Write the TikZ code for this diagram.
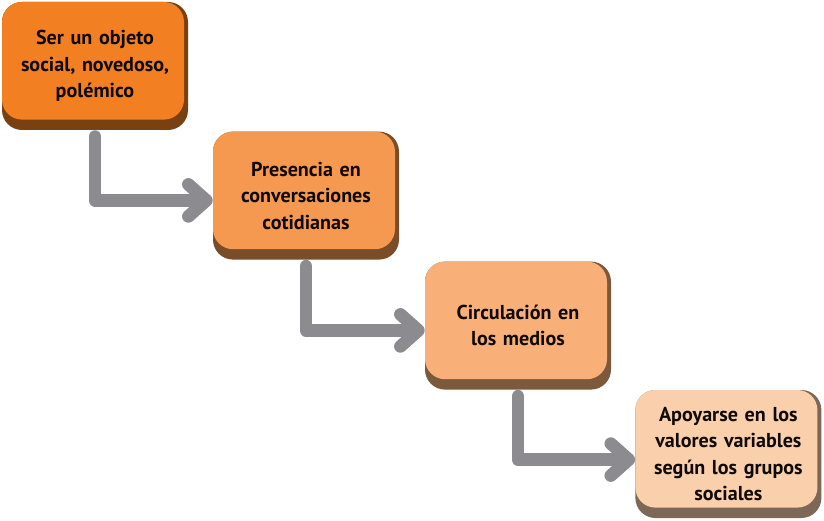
\documentclass[tikz,border=0pt]{standalone}
\usepackage{fontspec}
\setmainfont{PT Sans}
\usetikzlibrary{positioning, arrows.meta, calc}
\definecolor{stageA}{RGB}{242,128,35}
\definecolor{stageB}{RGB}{245,153,80}
\definecolor{stageC}{RGB}{248,176,120}
\definecolor{stageD}{RGB}{250,207,172}
\definecolor{arrowgray}{RGB}{140,140,144}

\tikzset{
  stage/.style={rectangle, rounded corners=0.5cm, minimum width=4.65cm, minimum height=3.2cm,
    text width=4.3cm, align=center, text=black!92!brown,
    font=\bfseries\fontsize{14.3}{18.8}\selectfont,
    fill=#1!50!black,
    path picture={\fill[#1, rounded corners=0.5cm]
      ($(path picture bounding box.south west)+(0,0.26)$) rectangle
      ($(path picture bounding box.north east)+(-0.1,0)$);}},
  flow/.style={draw=arrowgray, line width=9pt, line cap=round, line join=round,
    shorten <=4.5pt, -{Straight Barb[length=0.45cm, width=0.8cm, round]}}
}

\begin{document}
\begin{tikzpicture}
\useasboundingbox (0,0) rectangle (20.6,-13.025);

% Stages
\node[stage=stageA] (b1) at (2.375,-1.65) {Ser un objeto\\social, novedoso,\\polémico};
\node[stage=stageB] (b2) at (7.65,-4.89) {Presencia en\\conversaciones\\cotidianas};
\node[stage=stageC] (b3) at (12.95,-8.14) {Circulación en\\los medios};
\node[stage=stageD] (b4) at (18.21,-11.35) {Apoyarse en los\\valores variables\\según los grupos\\sociales};

% Connectors
\draw[flow] (b1.south) |- ([yshift=-0.12cm]b2.west);
\draw[flow] (b2.south) |- ([yshift=-0.12cm]b3.west);
\draw[flow] (b3.south) |- ([yshift=-0.14cm]b4.west);

\end{tikzpicture}
\end{document}
